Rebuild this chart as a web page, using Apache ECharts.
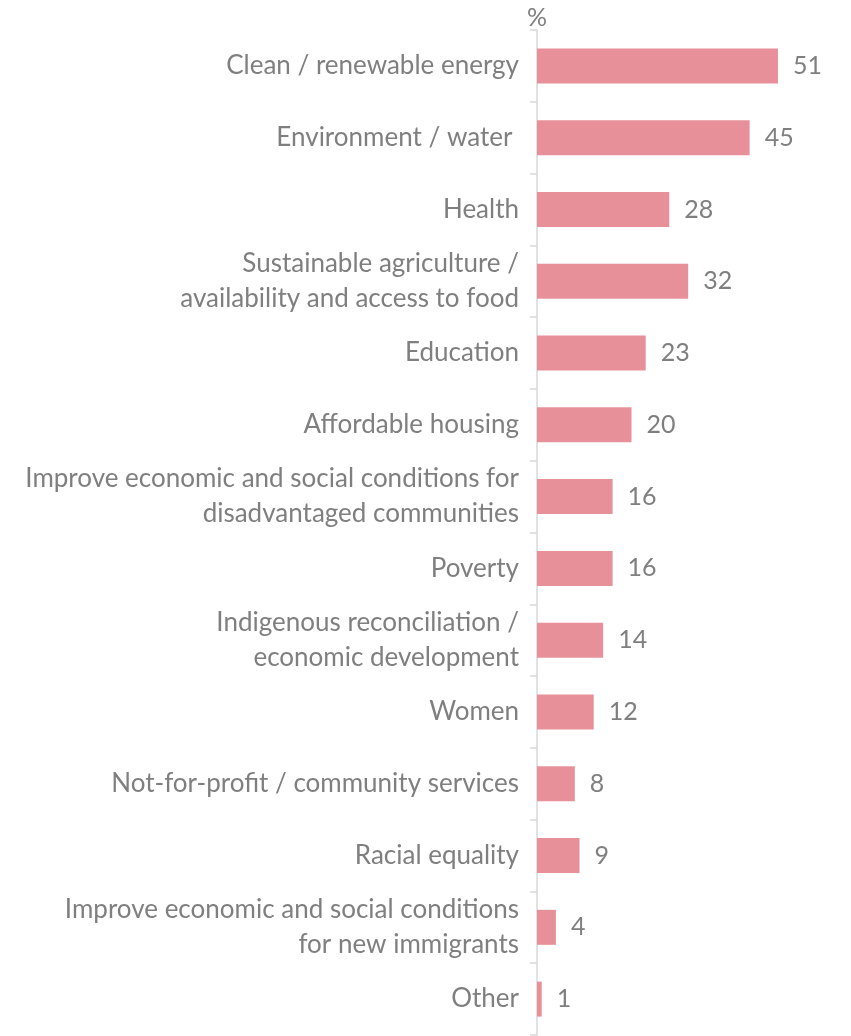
<!doctype html>
<html>
<head>
<meta charset="utf-8">
<script src="https://cdn.jsdelivr.net/npm/echarts@6/dist/echarts.min.js"></script>
<style>
  html, body { margin: 0; padding: 0; background: #fff; }
  #main { width: 851px; height: 1036px; }
</style>
</head>
<body>
<div id="main"></div>
<script>
var categories = [
  'Clean / renewable energy',
  'Environment / water ',
  'Health',
  'Sustainable agriculture /\navailability and access to food',
  'Education',
  'Affordable housing',
  'Improve economic and social conditions for\ndisadvantaged communities',
  'Poverty',
  'Indigenous reconciliation /\neconomic development',
  'Women',
  'Not-for-profit / community services',
  'Racial equality',
  'Improve economic and social conditions\nfor new immigrants',
  'Other'
];
var values = [51, 45, 28, 32, 23, 20, 16, 16, 14, 12, 8, 9, 4, 1];

var textColor = '#7f7f7f';
var fontName = 'Lato';

var chart = echarts.init(document.getElementById('main'));
chart.setOption({
  animation: false,
  grid: { left: 537, top: 30, width: 283.5, bottom: 1 },
  graphic: [{
    type: 'text', left: 527, top: 5,
    style: { text: '%', fill: textColor, font: '25px ' + fontName }
  }],
  xAxis: {
    type: 'value', min: 0, max: 60, show: false
  },
  yAxis: {
    type: 'category',
    inverse: true,
    data: categories,
    axisLine: { show: true, lineStyle: { color: '#d9d9d9', width: 1.5 } },
    axisTick: { show: true, length: 7, lineStyle: { color: '#d9d9d9', width: 1.5 } },
    axisLabel: {
      color: textColor, fontFamily: fontName, fontSize: 26,
      lineHeight: 35, margin: 18, align: 'right', padding: [8, 0, 0, 0]
    },
    splitLine: { show: false }
  },
  series: [{
    type: 'bar',
    data: values,
    barWidth: 35,
    itemStyle: { color: '#e8909a' },
    label: {
      show: true, position: 'right', distance: 15,
      color: textColor, fontFamily: fontName, fontSize: 25, padding: [7, 0, 0, 0]
    }
  }]
});
</script>
</body>
</html>
